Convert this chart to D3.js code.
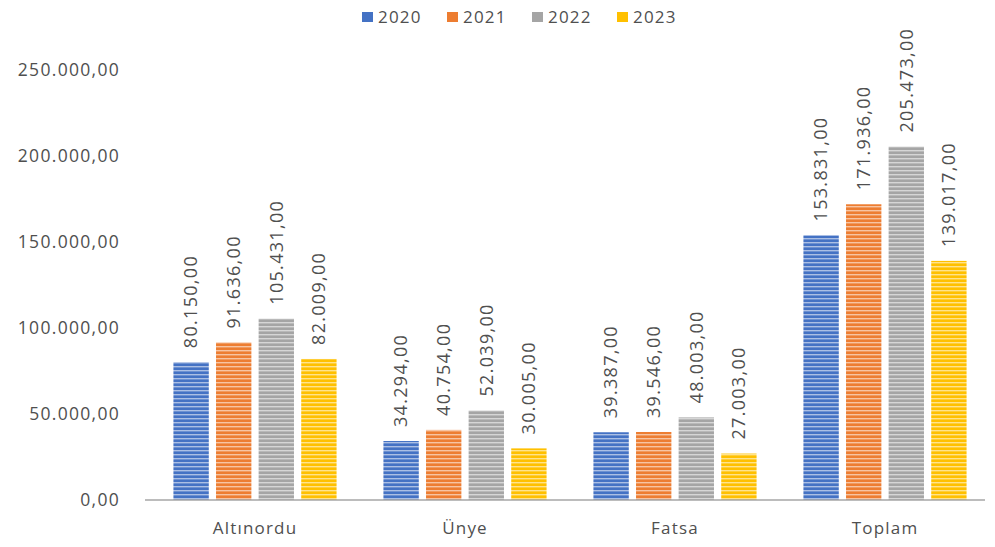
<!DOCTYPE html>
<html>
<head>
<meta charset="utf-8">
<script src="https://cdn.jsdelivr.net/npm/d3@7"></script>
<style>
  body { margin: 0; background: #fff; }
  text { font-family: "Open Sans", sans-serif; fill: #4f4f4f; }
</style>
</head>
<body>
<div id="chart"></div>
<script>
const categories = ["Altınordu", "Ünye", "Fatsa", "Toplam"];
const years = ["2020", "2021", "2022", "2023"];
const colors = ["#4472C4", "#ED7D31", "#A5A5A5", "#FFC000"];
const v2020 = [80150, 34294, 39387, 153831];
const v2021 = [91636, 40754, 39546, 171936];
const v2022 = [105431, 52039, 48003, 205473];
const v2023 = [82009, 30005, 27003, 139017];
const yTicks = [0, 50000, 100000, 150000, 200000, 250000];

const series = [v2020, v2021, v2022, v2023];

const width = 995, height = 547;
const margin = { top: 70, right: 5, bottom: 47, left: 150 };

const fmt = v => d3.format(",.2f")(v).replace(/,/g, "#").replace(/\./g, ",").replace(/#/g, ".");

let svg = d3.select("#chart")
  .append("svg")
  .attr("width", width)
  .attr("height", height);

// striped fills like the original
let defs = svg.append("defs");
colors.forEach((c, i) => {
  let p = defs.append("pattern")
    .attr("id", "stripe" + i)
    .attr("patternUnits", "userSpaceOnUse")
    .attr("width", 10)
    .attr("height", 4);
  p.append("rect").attr("width", 10).attr("height", 4).attr("fill", c);
  p.append("rect").attr("y", 2).attr("width", 10).attr("height", 1.4)
    .attr("fill", "#fff").attr("opacity", 0.55);
});

let x0 = d3.scaleBand().domain(categories)
  .range([margin.left, width - margin.right]).paddingInner(0).paddingOuter(0);
let x1 = d3.scaleBand().domain(years)
  .range([0, x0.bandwidth()]).paddingInner(0.17).paddingOuter(0.55);
let y = d3.scaleLinear().domain([0, 250000]).range([height - margin.bottom, margin.top]);

// y axis labels
svg.append("g")
  .attr("transform", "translate(" + (margin.left - 27) + ",0)")
  .call(d3.axisLeft(y).tickValues(yTicks).tickSize(0).tickFormat(fmt))
  .call(g => g.select(".domain").remove())
  .selectAll("text")
  .style("font-size", "17.5px")
  .style("letter-spacing", "1.3px")
  .attr("dx", 0);

// bars
let groups = svg.append("g").selectAll("g")
  .data(categories)
  .join("g")
  .attr("transform", d => "translate(" + x0(d) + ",0)");

years.forEach((yr, si) => {
  groups.append("rect")
    .attr("x", x1(yr))
    .attr("width", x1.bandwidth())
    .attr("y", (d, ci) => y(series[si][ci]))
    .attr("height", (d, ci) => y(0) - y(series[si][ci]))
    .attr("fill", "url(#stripe" + si + ")");

  groups.append("text")
    .attr("transform", (d, ci) => "translate(" + (x1(yr) + x1.bandwidth() / 2) + "," + (y(series[si][ci]) - 14) + ") rotate(-90)")
    .attr("dy", "0.35em")
    .style("font-size", "18px")
    .style("letter-spacing", "1.3px")
    .text((d, ci) => fmt(series[si][ci]));
});

// x axis
svg.append("g")
  .attr("transform", "translate(0," + y(0) + ")")
  .call(d3.axisBottom(x0).tickSize(0).tickPadding(22))
  .call(g => g.select(".domain").attr("stroke", "#A6A6A6").attr("stroke-width", 1.3)
    .attr("d", "M" + (margin.left - 5) + ",0H" + (width - 10)))
  .selectAll("text")
  .style("font-size", "17px")
  .style("letter-spacing", "1.2px");

// legend
let legend = svg.append("g").attr("transform", "translate(362,17)");
years.forEach((yr, i) => {
  let g = legend.append("g").attr("transform", "translate(" + (i * 85) + ",0)");
  g.append("rect").attr("x", 0).attr("y", -5).attr("width", 11).attr("height", 10).attr("fill", colors[i]);
  g.append("text").attr("x", 16).attr("y", 0).attr("dy", "0.35em")
    .style("font-size", "17px").style("letter-spacing", "1.2px").text(yr);
});
</script>
</body>
</html>
